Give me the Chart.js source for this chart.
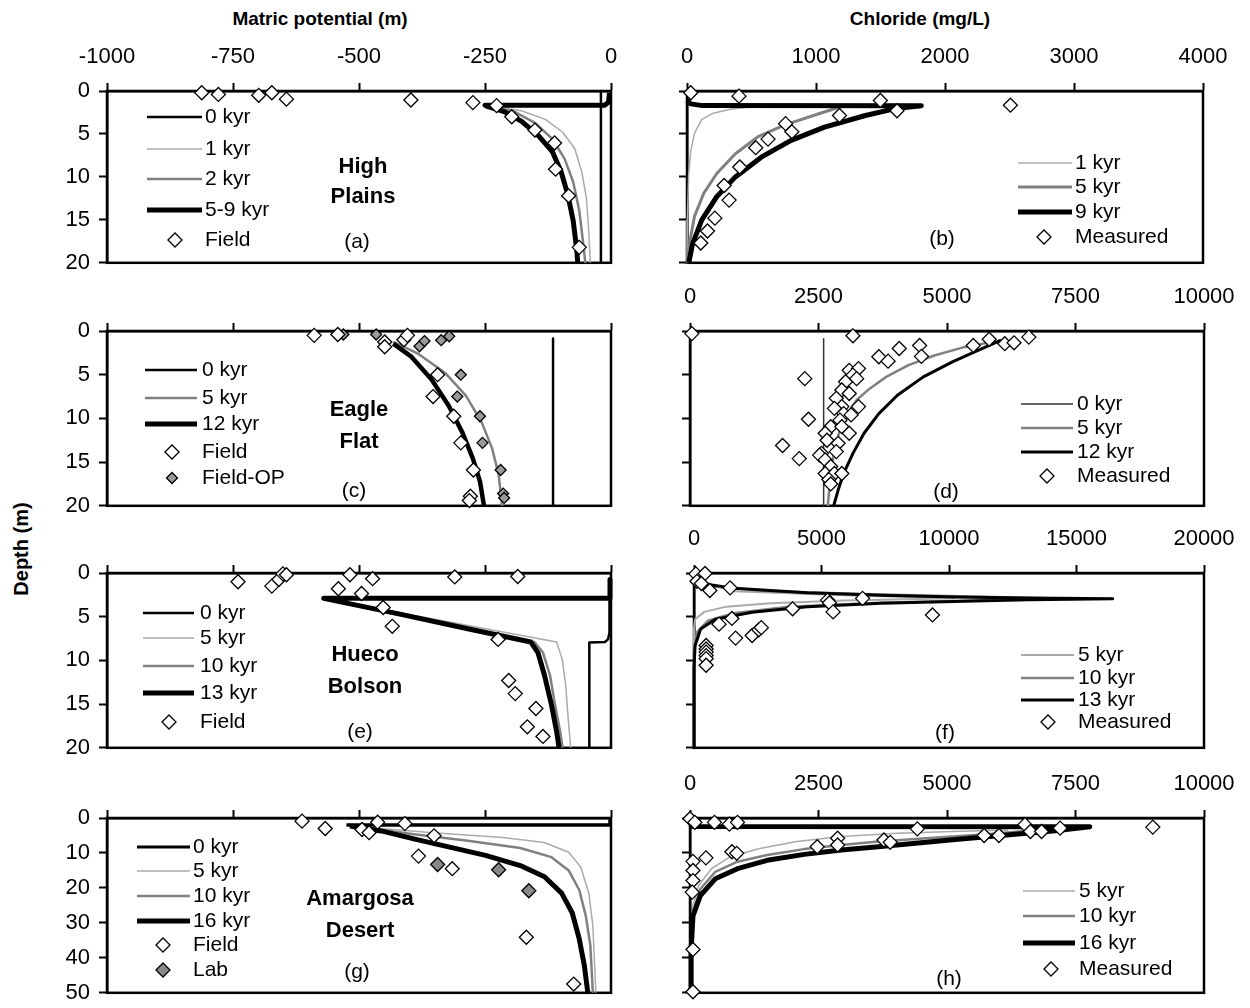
<!DOCTYPE html>
<html>
<head>
<meta charset="utf-8">
<script src="https://cdn.jsdelivr.net/npm/chart.js@4.4.1/dist/chart.umd.min.js"></script>
<style>
  body { margin: 0; background: #fff; width: 1250px; height: 1008px; position: relative; overflow: hidden;
         font-family: "Liberation Sans", Arial, sans-serif; }
  canvas { position: absolute; }
  .ttl { position: absolute; font-weight: bold; font-size: 19px; white-space: nowrap; transform: translate(-50%, -50%); }
</style>
</head>
<body>
<div class="ttl" style="left:320px; top:19px">Matric potential (m)</div>
<div class="ttl" style="left:920px; top:19px">Chloride (mg/L)</div>
<div class="ttl" style="left:21px; top:549px; font-size:20px; transform: translate(-50%, -50%) rotate(-90deg)">Depth (m)</div>
<script>
// tick values
const potTicks = [-1000, -750, -500, -250, 0];
const clTicksB = [0, 1000, 2000, 3000, 4000];
const clTicksD = [0, 2500, 5000, 7500, 10000];
const clTicksF = [0, 5000, 10000, 15000, 20000];
const clTicksH = [0, 2500, 5000, 7500, 10000];
const depth20 = [0, 5, 10, 15, 20];
const depth50 = [0, 10, 20, 30, 40, 50];

// (a) High Plains - matric potential [m, depth]
const hpField = [[-812,0.2],[-779,0.4],[-699,0.5],[-673,0.2],[-644,0.95],[-397,1.05],[-274,1.35],[-227,1.7],
  [-197,3.0],[-151,4.55],[-112,6.05],[-110,9.1],[-84,12.2],[-63,18.2]];
const hp0 = [[-20,0],[-20,20]];
const hp1 = [[-233,1.8],[-178,2.3],[-130,3.3],[-96,4.8],[-72,6.7],[-58,9.4],[-49,12.4],[-45,15.5],[-41,20]];
const hp2 = [[-240,1.8],[-192,2.4],[-151,3.7],[-116,5.6],[-92,7.9],[-75,10.6],[-63,13.9],[-56,17.3],[-51,20]];
const hp59 = [[-3,0.2],[-5,1.3],[-12,1.65],[-250,1.65],[-247,1.75],[-212,2.4],[-178,3.5],[-144,5.2],[-116,7.1],
  [-99,9.4],[-86,12.0],[-75,15.1],[-68,18.5],[-66,20]];

// (b) High Plains - chloride [mg/L, depth]
const hpCl = [[29,0.2],[403,0.6],[1499,1.1],[2507,1.65],[1182,2.85],[1628,2.3],[764,3.8],[813,4.75],[628,5.6],
  [533,6.6],[409,8.85],[288,11.0],[326,12.7],[216,14.8],[159,16.3],[107,17.7]];
const hpCl1 = [[490,1.85],[346,2.1],[202,2.6],[115,3.3],[58,4.9],[29,7.0],[12,10],[3,15],[0,20]];
const hpCl5 = [[1196,1.8],[980,2.85],[749,4.0],[548,5.35],[375,7.3],[231,9.6],[130,11.9],[58,14.6],[23,17.4],[6,20]];
const hpCl9 = [[0,1.1],[30,1.5],[120,1.7],[1816,1.72],[1614,2.05],[1383,2.85],[1066,4.2],[807,5.75],[576,7.7],
  [375,10.0],[231,12.3],[115,15.0],[43,17.8],[14,20]];

// (c) Eagle Flat - matric potential
const efField = [[-589,0.5],[-542,0.4],[-449,1.25],[-449,1.8],[-411,1.0],[-404,0.5],[-344,5.0],[-353,7.5],
  [-312,9.75],[-298,12.8],[-273,15.9],[-279,18.9],[-281,19.4]];
const efFieldOP = [[-531,0.4],[-466,0.4],[-380,1.75],[-370,1.15],[-337,1.05],[-321,0.6],[-298,5.0],[-305,7.5],
  [-260,9.75],[-255,12.8],[-219,15.9],[-214,18.6],[-212,19.1]];
const ef0 = [[-115,0.85],[-115,20]];
const ef5 = [[-432,1.25],[-384,2.55],[-329,4.8],[-288,7.4],[-257,10.4],[-236,13.4],[-223,16.4],[-216,20]];
const ef12 = [[-432,1.45],[-397,2.9],[-356,5.55],[-322,8.55],[-295,11.6],[-274,14.6],[-260,17.2],[-252,20]];

// (d) Eagle Flat - chloride
const efCl = [[36,0.3],[3170,0.55],[5511,1.65],[5821,0.95],[6124,1.45],[6304,1.35],[6592,0.7],[4071,2.0],[4467,1.65],
  [4503,2.9],[3674,2.95],[3854,3.45],[2233,5.45],[2305,10.1],[1801,13.1],[2125,14.6],
  [3098,4.5],[3278,4.3],[3170,5.05],[3026,5.8],[3242,5.45],[2954,6.75],[3098,7.15],[2846,7.7],[2954,8.65],
  [2810,8.85],[3278,8.65],[2990,9.45],[3134,9.6],[2918,10.2],[2738,10.95],[2954,10.95],[3098,11.7],[2630,11.7],
  [2666,12.5],[2882,12.85],[2558,14.0],[2846,13.8],[2522,14.2],[2630,14.75],[2738,15.5],[2630,16.3],[2810,16.3],
  [2954,16.3],[2702,17.0],[2738,17.5]];
const efCl0 = [[2600,0.9],[2600,20]];
const efCl5 = [[5800,1.35],[5331,1.85],[4755,2.8],[4251,3.9],[3818,5.25],[3494,6.6],[3242,7.9],[3062,9.45],
  [2918,11.3],[2810,13.6],[2738,16.3],[2680,20]];
const efCl12 = [[6052,1.05],[5692,2.0],[5115,3.5],[4539,5.25],[4035,7.35],[3674,9.45],[3386,11.7],[3170,14.0],
  [2990,16.3],[2882,18.2],[2795,20]];

// (e) Hueco Bolson - matric potential
const hbField = [[-740,1.0],[-673,1.5],[-659,0.75],[-651,0.1],[-644,0.2],[-541,1.8],[-518,0.2],[-495,2.35],
  [-473,0.65],[-452,3.95],[-434,6.1],[-310,0.45],[-224,7.6],[-185,0.4],[-203,12.3],[-190,13.8],[-149,15.5],
  [-166,17.6],[-135,18.7]];
const hb0 = [[-3,0.8],[-3,6.8],[-6,7.6],[-12,7.9],[-43,7.95],[-43,20]];
const hb5 = [[-563,3.0],[-108,7.9],[-97,9.8],[-90,12.8],[-85,16.6],[-80,20]];
const hb10 = [[-566,3.0],[-152,7.9],[-135,9.1],[-121,11.7],[-111,15.1],[-101,18.1],[-96,20]];
const hb13 = [[-2,0.75],[-2,2.9],[-570,2.9],[-419,4.7],[-282,6.4],[-159,7.9],[-145,9.1],[-132,11.7],[-118,15.1],
  [-108,18.1],[-103,20]];

// (f) Hueco Bolson - chloride
const hbCl = [[72,0.1],[433,0.05],[115,0.95],[289,1.2],[620,2.0],[1414,1.7],[5238,3.1],[5310,3.4],[6609,2.9],
  [5455,4.45],[3867,4.1],[1486,5.2],[981,5.85],[1631,7.45],[2280,7.15],[2540,6.5],[2641,6.25],[9351,4.8],
  [476,8.3],[476,8.7],[476,9.05],[476,9.45],[476,9.8],[476,10.55]];
const hbCl5 = [[0,0.75],[1558,2.1],[5887,2.55],[10216,2.9],[5887,3.15],[3001,3.45],[1270,3.85],[404,4.45],
  [43,5.3],[0,6.4],[0,20]];
const hbCl10 = [[0,0.55],[548,1.5],[3001,2.1],[7330,2.45],[11659,2.75],[14545,2.94],[11659,3.1],[7330,3.4],
  [3723,3.85],[1558,4.6],[548,5.45],[115,6.8],[0,9.05],[0,20]];
const hbCl13 = [[0,0.4],[548,1.3],[1558,1.75],[4444,2.25],[7330,2.55],[10216,2.75],[13102,2.87],[16421,2.94],
  [13102,3.05],[10216,3.25],[7330,3.47],[4444,3.85],[2280,4.5],[837,5.3],[260,6.4],[43,8.3],[0,10.9],[0,20]];

// (g) Amargosa Desert - matric potential
const adField = [[-613,0.9],[-567,3.0],[-494,3.3],[-480,4.2],[-463,1.2],[-409,1.6],[-351,5.1],[-382,10.9],
  [-315,14.5],[-168,34.1],[-74,47.5]];
const adLab = [[-344,13.3],[-223,14.8],[-163,20.8]];
const ad0 = [[-525,2.0],[-2,2.0],[-2,0.3]];
const ad5 = [[-477,2.8],[-353,4.2],[-215,5.6],[-132,7.0],[-84,9.8],[-60,14.0],[-44,21.5],[-36,30.8],[-30,50]];
const ad10 = [[-490,2.8],[-387,4.7],[-284,6.5],[-180,8.6],[-118,11.2],[-84,15.0],[-63,20.6],[-50,28.0],[-41,36.4],[-36,50]];
const ad16 = [[-518,2.3],[-456,3.7],[-387,6.1],[-318,8.4],[-249,10.7],[-180,13.6],[-132,16.8],[-98,21.5],[-77,27.1],
  [-63,34.6],[-53,42.1],[-46,50]];

// (h) Amargosa Desert - chloride
const adCl = [[0,0.2],[94,1.25],[476,1.25],[765,1.75],[924,1.25],[4423,3.1],[6515,1.9],[6623,3.85],[6840,3.85],
  [7201,2.9],[9004,2.6],[5722,5.0],[6010,5.0],[2872,5.8],[2872,7.7],[2475,8.2],[3773,6.3],[3896,6.95],[815,9.65],
  [909,10.1],[310,11.4],[58,12.4],[58,15.0],[58,17.9],[43,21.2],[58,37.6],[58,49.7]];
const adCl5 = [[6190,3.4],[5108,3.85],[4026,4.35],[2944,5.3],[2078,6.75],[1356,8.7],[779,11.1],[418,14.5],
  [166,19.3],[58,25.1],[22,31.9],[10,50]];
const adCl10 = [[6912,3.2],[5830,4.6],[5108,5.3],[4387,6.0],[3665,6.75],[2944,7.7],[2222,8.9],[1501,10.6],
  [924,12.5],[491,15.4],[202,20.3],[58,27],[22,36.7],[15,50]];
const adCl16 = [[0,1.9],[58,2.4],[7778,2.5],[7273,3.4],[6551,4.35],[5830,5.3],[5108,6.25],[4387,7.25],[3665,8.2],
  [2944,9.15],[2222,10.4],[1501,12.1],[924,14.5],[491,17.4],[202,22.2],[58,28.0],[22,37.6],[22,50]];

Chart.defaults.font.family = '"Liberation Sans", Arial, sans-serif';
const FONT = '"Liberation Sans", Arial, sans-serif';
const PAD_L = 70, PAD_T = 70, PAD_R = 45, PAD_B = 20;

const xy = d => d.map(([x, y]) => ({x, y}));
const line = (d, color, width) => ({data: xy(d), showLine: true, borderColor: color, borderWidth: width,
  pointRadius: 0, tension: 0, borderJoinStyle: 'round', clip: 6});
const pts = (d, fill, r) => ({data: xy(d), showLine: false, pointStyle: 'rectRot', pointRadius: r,
  backgroundColor: fill, borderColor: '#000', borderWidth: 1.3, clip: false});

function diamond(ctx, x, y, r, fill) {
  ctx.beginPath();
  ctx.moveTo(x - r, y); ctx.lineTo(x, y - r); ctx.lineTo(x + r, y); ctx.lineTo(x, y + r);
  ctx.closePath();
  ctx.fillStyle = fill; ctx.fill();
  ctx.lineWidth = 1.3; ctx.strokeStyle = '#000'; ctx.stroke();
}

// frame, legend, site name and panel letter
const deco = {
  id: 'deco',
  beforeDatasetsDraw(chart) {
    const a = chart.chartArea, ctx = chart.ctx;
    ctx.save();
    ctx.strokeStyle = '#000'; ctx.lineWidth = 2.5;
    ctx.strokeRect(a.left, a.top, a.right - a.left, a.bottom - a.top);
    ctx.restore();
  },
  afterDatasetsDraw(chart, args, o) {
    const a = chart.chartArea, ctx = chart.ctx;
    ctx.save();
    ctx.textBaseline = 'middle';
    ctx.font = '21px ' + FONT;
    o.items.forEach((it, i) => {
      const y = a.top + o.rows[i];
      if (it.marker) {
        diamond(ctx, a.left + o.mx, y, it.r || 7, it.marker);
      } else {
        ctx.beginPath();
        ctx.moveTo(a.left + o.lx[0], y); ctx.lineTo(a.left + o.lx[1], y);
        ctx.strokeStyle = it.color; ctx.lineWidth = it.width; ctx.stroke();
      }
      ctx.fillStyle = '#000'; ctx.textAlign = 'left';
      ctx.fillText(it.label, a.left + o.tx, y);
    });
    ctx.textAlign = 'center';
    if (o.site) {
      ctx.font = 'bold 22px ' + FONT;
      o.site.forEach((s, i) => ctx.fillText(s, a.left + o.sx, a.top + o.sy[i]));
    }
    ctx.font = '21px ' + FONT;
    ctx.fillText(o.tag, a.left + o.tagPos[0], a.top + o.tagPos[1]);
    ctx.restore();
  }
};

function axis(ticks, pos, showLabels, fit, extra) {
  return Object.assign({
    type: 'linear', position: pos, min: ticks[0], max: ticks[ticks.length - 1],
    afterBuildTicks: s => { s.ticks = ticks.map(v => ({value: v})); },
    afterFit: fit,
    grid: {drawOnChartArea: false, drawTicks: true, tickLength: 8, tickWidth: 2, color: '#000'},
    border: {display: true, color: '#000', width: 2.5},
    ticks: {color: showLabels ? '#000' : 'rgba(0,0,0,0)', font: {size: 22}, maxRotation: 0, autoSkip: false,
      callback: v => String(v)}
  }, extra);
}

function panel(box, xTicks, yTicks, showX, showY, datasets, opts) {
  const c = document.createElement('canvas');
  const w = box[1] - box[0] + PAD_L + PAD_R, h = box[3] - box[2] + PAD_T + PAD_B;
  c.width = w; c.height = h;
  c.style.left = (box[0] - PAD_L) + 'px'; c.style.top = (box[2] - PAD_T) + 'px';
  c.style.width = w + 'px'; c.style.height = h + 'px';
  document.body.appendChild(c);
  const x = axis(xTicks, 'top', showX, s => { s.height = PAD_T; });
  x.ticks.padding = 13;
  const y = axis(yTicks, 'left', showY, s => { s.width = PAD_L; }, {reverse: true});
  y.ticks.padding = 9;
  new Chart(c, {
    type: 'scatter',
    data: {datasets},
    options: {
      responsive: false, animation: false, devicePixelRatio: 1, events: [],
      layout: {padding: {left: 0, top: 0, right: PAD_R, bottom: PAD_B}},
      plugins: {legend: {display: false}, tooltip: {enabled: false}, deco: opts},
      scales: {x, y}
    },
    plugins: [deco]
  });
}

const BLK = '#000', MID = '#808080', LIGHT = '#aaaaaa';

panel([107, 611, 91, 265], potTicks, depth20, true, true, [
  pts(hpField, '#fff', 7),
  line(hp59, BLK, 5), line(hp2, MID, 2.5), line(hp1, LIGHT, 1.5), line(hp0, BLK, 2.5)
], {items: [{label: '0 kyr', color: BLK, width: 2.5}, {label: '1 kyr', color: LIGHT, width: 1.5},
  {label: '2 kyr', color: MID, width: 2.5}, {label: '5-9 kyr', color: BLK, width: 5}, {label: 'Field', marker: '#fff'}],
  lx: [40, 95], tx: 98, mx: 68, rows: [26, 58, 88, 119, 149],
  site: ['High', 'Plains'], sx: 256, sy: [76, 106], tag: '(a)', tagPos: [250, 151]});

panel([687, 1203, 91, 265], clTicksB, depth20, true, false, [
  pts(hpCl, '#fff', 7),
  line(hpCl9, BLK, 5), line(hpCl5, MID, 3), line(hpCl1, LIGHT, 1.5)
], {items: [{label: '1 kyr', color: LIGHT, width: 1.5}, {label: '5 kyr', color: MID, width: 3},
  {label: '9 kyr', color: BLK, width: 5}, {label: 'Measured', marker: '#fff'}],
  lx: [331, 385], tx: 388, mx: 357, rows: [72, 96, 121, 146], tag: '(b)', tagPos: [255, 148]});

panel([107, 611, 331, 508], potTicks, depth20, false, true, [
  pts(efField, '#fff', 7), pts(efFieldOP, '#999', 5.5),
  line(ef12, BLK, 4.5), line(ef5, MID, 2.5), line(ef0, BLK, 2.5)
], {items: [{label: '0 kyr', color: BLK, width: 2.5}, {label: '5 kyr', color: MID, width: 2.5},
  {label: '12 kyr', color: BLK, width: 5}, {label: 'Field', marker: '#fff'}, {label: 'Field-OP', marker: '#999', r: 5.5}],
  lx: [38, 90], tx: 95, mx: 65, rows: [39, 67, 93, 121, 147],
  site: ['Eagle', 'Flat'], sx: 252, sy: [79, 111], tag: '(c)', tagPos: [247, 160]});

panel([690, 1204, 331, 508], clTicksD, depth20, true, false, [
  pts(efCl, '#fff', 7),
  line(efCl12, BLK, 3), line(efCl5, MID, 2.5), line(efCl0, '#333', 1.5)
], {items: [{label: '0 kyr', color: '#333', width: 1.5}, {label: '5 kyr', color: MID, width: 2.5},
  {label: '12 kyr', color: BLK, width: 3}, {label: 'Measured', marker: '#fff'}],
  lx: [331, 383], tx: 387, mx: 357, rows: [73, 97, 121, 145], tag: '(d)', tagPos: [256, 161]});

panel([107, 611, 573, 750], potTicks, depth20, false, true, [
  pts(hbField, '#fff', 7),
  line(hb13, BLK, 5), line(hb10, MID, 2.5), line(hb5, LIGHT, 1.5), line(hb0, BLK, 2.5)
], {items: [{label: '0 kyr', color: BLK, width: 2.5}, {label: '5 kyr', color: LIGHT, width: 1.5},
  {label: '10 kyr', color: MID, width: 2.5}, {label: '13 kyr', color: BLK, width: 5}, {label: 'Field', marker: '#fff'}],
  lx: [36, 87], tx: 93, mx: 62, rows: [40, 65, 93, 120, 149],
  site: ['Hueco', 'Bolson'], sx: 258, sy: [82, 114], tag: '(e)', tagPos: [253, 159]});

panel([694, 1204, 573, 750], clTicksF, depth20, true, false, [
  pts(hbCl, '#fff', 7),
  line(hbCl13, BLK, 3), line(hbCl10, MID, 2.5), line(hbCl5, LIGHT, 2)
], {items: [{label: '5 kyr', color: LIGHT, width: 2}, {label: '10 kyr', color: MID, width: 2.5},
  {label: '13 kyr', color: BLK, width: 3}, {label: 'Measured', marker: '#fff'}],
  lx: [327, 380], tx: 384, mx: 354, rows: [82, 105, 127, 149], tag: '(f)', tagPos: [251, 160]});

panel([107, 611, 818, 995], potTicks, depth50, false, true, [
  pts(adField, '#fff', 7), pts(adLab, '#888', 7),
  line(ad16, BLK, 5), line(ad10, MID, 2.5), line(ad5, LIGHT, 1.5), line(ad0, BLK, 3.5)
], {items: [{label: '0 kyr', color: BLK, width: 3}, {label: '5 kyr', color: LIGHT, width: 1.5},
  {label: '10 kyr', color: MID, width: 2.5}, {label: '16 kyr', color: BLK, width: 5}, {label: 'Field', marker: '#fff'},
  {label: 'Lab', marker: '#888'}],
  lx: [30, 83], tx: 86, mx: 56, rows: [29, 53, 78, 103, 127, 152],
  site: ['Amargosa', 'Desert'], sx: 253, sy: [81, 113], tag: '(g)', tagPos: [250, 154]});

panel([690, 1204, 818, 995], clTicksH, depth50, true, false, [
  pts(adCl, '#fff', 7),
  line(adCl16, BLK, 5), line(adCl10, MID, 2.5), line(adCl5, LIGHT, 1.5)
], {items: [{label: '5 kyr', color: LIGHT, width: 1.5}, {label: '10 kyr', color: MID, width: 2.5},
  {label: '16 kyr', color: BLK, width: 5}, {label: 'Measured', marker: '#fff'}],
  lx: [333, 385], tx: 389, mx: 361, rows: [73, 98, 125, 151], tag: '(h)', tagPos: [259, 161]});
</script>
</body>
</html>
